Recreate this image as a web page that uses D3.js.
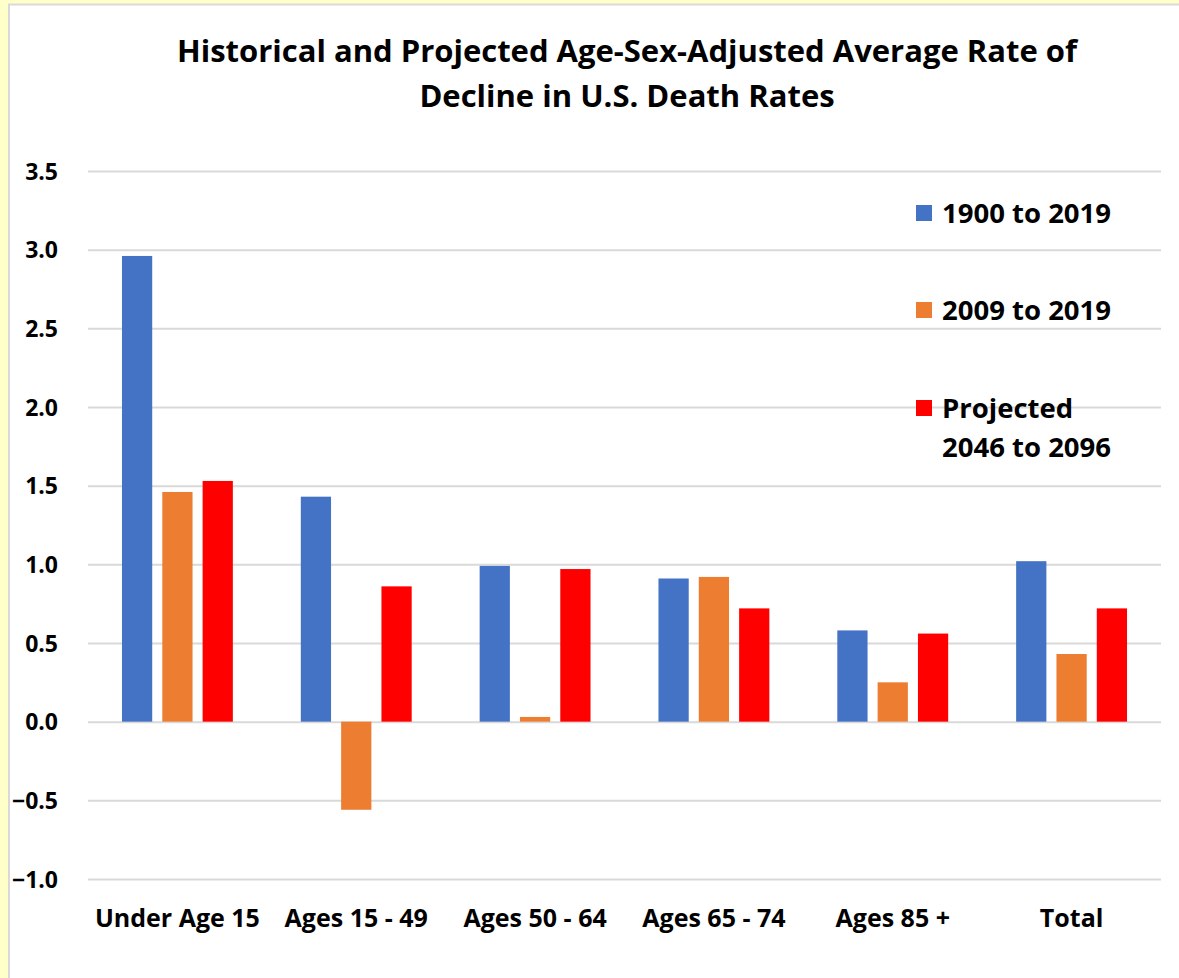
<!DOCTYPE html>
<html>
<head>
<meta charset="utf-8">
<script src="https://cdn.jsdelivr.net/npm/d3@7"></script>
<style>
  html, body { margin: 0; padding: 0; background: #FFFFC9; }
  svg { display: block; }
  text { font-family: "Open Sans", Lato, sans-serif; font-weight: bold; fill: #000; }
</style>
</head>
<body>
<script>
const categories = ["Under Age 15", "Ages 15 - 49", "Ages 50 - 64", "Ages 65 - 74", "Ages 85 +", "Total"];
const seriesNames = ["1900 to 2019", "2009 to 2019", "Projected 2046 to 2096"];
const hist1900 = [2.96, 1.43, 0.99, 0.91, 0.58, 1.02];
const hist2009 = [1.46, -0.56, 0.03, 0.92, 0.25, 0.43];
const projected = [1.53, 0.86, 0.97, 0.72, 0.56, 0.72];
const yTicks = [3.5, 3.0, 2.5, 2.0, 1.5, 1.0, 0.5, 0.0, -0.5, -1.0];
const colors = ["#4472C4", "#ED7D31", "#FF0000"];
const titleLines = ["Historical and Projected Age-Sex-Adjusted Average Rate of", "Decline in U.S. Death Rates"];

const W = 1179, H = 978;
const svg = d3.select("body").append("svg").attr("width", W).attr("height", H);
const FONT = '"Open Sans", Lato, sans-serif';

// panel
svg.append("rect").attr("x", 0).attr("y", 0).attr("width", W).attr("height", H).attr("fill", "#FFFFC9");
svg.append("rect").attr("x", 9).attr("y", 4.5).attr("width", W + 10).attr("height", H + 10)
  .attr("fill", "#fff").attr("stroke", "#D9D9D9").attr("stroke-width", 2);

const plot = { left: 88, right: 1161, top: 171, bottom: 879 };
const y = d3.scaleLinear().domain([-1.0, 3.5]).range([plot.bottom, plot.top]);
const x0 = d3.scaleBand().domain(categories).range([plot.left, plot.right]).paddingInner(0.38).paddingOuter(0.19);
const x1 = d3.scaleBand().domain(seriesNames).range([0, x0.bandwidth()]).paddingInner(0.25);

// gridlines
const yAxis = d3.axisLeft(y).tickValues(yTicks).tickSize(-(plot.right - plot.left)).tickFormat(d3.format(".1f"));
const gy = svg.append("g").attr("transform", `translate(${plot.left},0)`).call(yAxis);
gy.select(".domain").remove();
gy.selectAll(".tick line").attr("stroke", "#D9D9D9").attr("stroke-width", 2);
gy.selectAll(".tick text").attr("x", -30).attr("dy", "0.36em")
  .style("font-size", "23px").style("font-family", FONT).style("font-weight", "bold").attr("fill", "#000")
  .text(d => d3.format(".1f")(d));

// bars
const data = categories.map((c, i) => ({ cat: c, vals: [hist1900[i], hist2009[i], projected[i]] }));
const groups = svg.append("g").selectAll("g").data(data).join("g")
  .attr("transform", d => `translate(${x0(d.cat)},0)`);
groups.selectAll("rect").data(d => d.vals.map((v, j) => ({ v, s: seriesNames[j], j })))
  .join("rect")
  .attr("x", d => x1(d.s))
  .attr("width", x1.bandwidth())
  .attr("y", d => Math.min(y(d.v), y(0)))
  .attr("height", d => Math.abs(y(d.v) - y(0)))
  .attr("fill", d => colors[d.j]);

// x axis labels
const xAxis = d3.axisBottom(x0).tickSize(0).tickPadding(0);
const gx = svg.append("g").attr("transform", `translate(0,${plot.bottom})`).call(xAxis);
gx.select(".domain").remove();
gx.selectAll(".tick text").attr("y", 48).attr("dy", 0)
  .style("font-size", "25px").style("font-family", FONT).style("font-weight", "bold").attr("fill", "#000");

// title
svg.append("g").selectAll("text").data(titleLines).join("text")
  .attr("x", 627).attr("y", (d, i) => 62 + i * 45)
  .attr("text-anchor", "middle").style("font-size", "31px").text(d => d);

// legend
const legendItems = [
  { lines: ["1900 to 2019"], y: 213 },
  { lines: ["2009 to 2019"], y: 310 },
  { lines: ["Projected", "2046 to 2096"], y: 408 }
];
const lg = svg.append("g").selectAll("g").data(legendItems).join("g");
lg.append("rect").attr("x", 916).attr("y", d => d.y - 8).attr("width", 16).attr("height", 16)
  .attr("fill", (d, i) => colors[i]);
lg.each(function(d) {
  d3.select(this).selectAll("text").data(d.lines).join("text")
    .attr("x", 942).attr("y", (t, k) => d.y + 10 + k * 39)
    .style("font-size", "27.5px").text(t => t);
});
</script>
</body>
</html>
